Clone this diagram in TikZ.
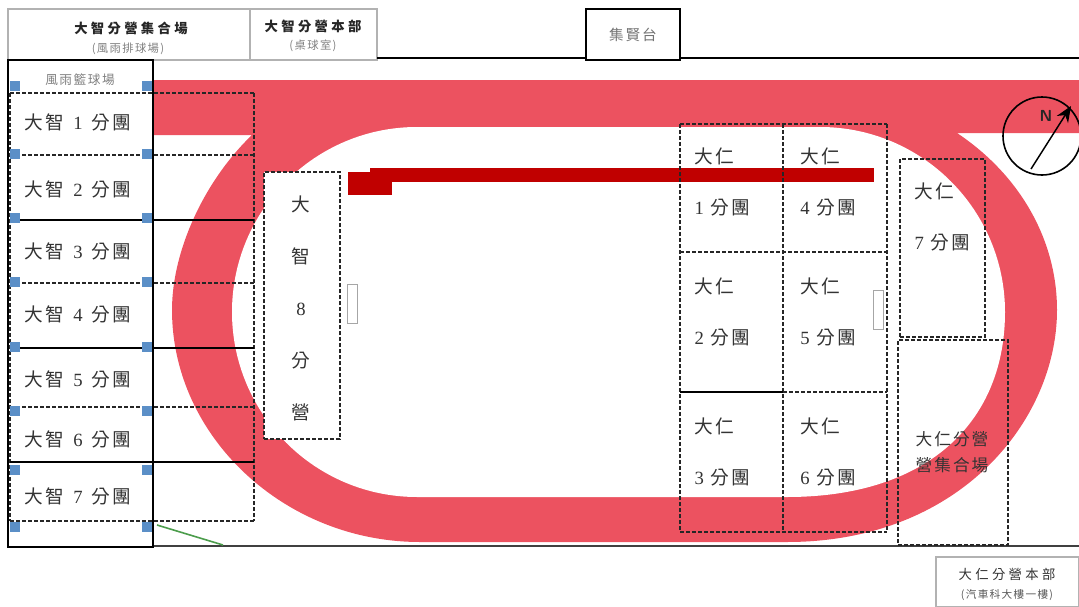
\documentclass[tikz,border=0pt]{standalone}
\usepackage{fontspec}
\setmainfont{Liberation Serif}
\newfontfamily\cjk[LetterSpace=12]{Noto Sans CJK TC}
\newfontfamily\cjkwide[LetterSpace=25]{Noto Sans CJK TC}
\usetikzlibrary{positioning, arrows.meta}
\definecolor{trackred}{HTML}{EC5260}
\definecolor{barred}{HTML}{C00000}
\definecolor{handleblue}{HTML}{5B8FC7}
\definecolor{inkgray}{HTML}{333333}
\tikzset{
  zonesize/.style 2 args={minimum width=#1*0.75pt, minimum height=#2*0.75pt},
  zonecell/.style={inner sep=0pt, outer sep=0pt},
  zoneline/.style={draw=black!85, line width=1.3pt, dash pattern=on 3pt off 1.5pt},
  zonesolid/.style={draw=black, line width=1.1pt},
  zonebox/.style={zonecell, zoneline},
  infobox/.style={draw=black!30, line width=0.8pt, fill=white, inner sep=0pt, outer sep=0pt},
  rowlabel/.style={text=inkgray, font=\fontsize{14}{16}\selectfont\cjk},
  renlabel/.style={text=inkgray, align=left, font=\fontsize{14}{38.5}\selectfont\cjk},
  handle/.style={fill=handleblue, inner sep=0pt, minimum size=7.5pt},
  slot/.style={draw=black!35, line width=0.6pt, fill=white, inner sep=0pt, zonesize={10}{39}},
  smalltext/.style={text=black!50, font=\fontsize{8.5}{10}\selectfont\cjk},
  headtext/.style={text=black!85, font=\fontsize{10}{12}\selectfont\cjkwide\bfseries}
}

\begin{document}
\begin{tikzpicture}[x=0.75pt, y=-0.75pt]
  \useasboundingbox (0,0) rectangle (1079,607);
  \clip (0,0) rectangle (1079,607);

  % Track
  \fill[trackred] (153,80) -- (1079,80) -- (1079,133) -- (957,133)
    .. controls (1020,175) and (1057,240) .. (1057,310)
    .. controls (1057,420) and (960,542) .. (787,542) -- (420,542)
    .. controls (285,542) and (172,437) .. (172,310)
    .. controls (172,250) and (205,180) .. (252,135) -- (153,135) -- cycle;
  \fill[white] (417,127) -- (820,127)
    .. controls (922,127) and (1005,210) .. (1005,312)
    .. controls (1005,420) and (930,497) .. (787,497) -- (417,497)
    .. controls (315,497) and (232,414) .. (232,312)
    .. controls (232,210) and (315,127) .. (417,127) -- cycle;

  % Red bar
  \fill[barred] (348,172) rectangle (392,195);
  \fill[barred] (370,168) rectangle (874,182);

  % Field border
  \coordinate (topend) at (1079,58);
  \coordinate (botstart) at (153,546);
  \coordinate (botend) at (1079,546);
  \coordinate (greenstart) at (157,525);
  \coordinate (greenend) at (223,545);
  \draw[black!75, line width=1pt] (botstart) -- (botend);
  \draw[green!45!black!70!white, line width=1.2pt] (greenstart) -- (greenend);

  % Top boxes
  \node[infobox, zonesize={242}{51}] (jihe) at (129,34.5) {};
  \node[infobox, zonesize={127}{51}, right=0pt of jihe] (benbu) {};
  \node[headtext] (jihename) at (131,28) {大智分營集合場};
  \node[smalltext] (jiheplace) at (128,49) {(風雨排球場)};
  \node[headtext] (benbuname) at (313,26) {大智分營本部};
  \node[smalltext] (benbuplace) at (313,46) {(桌球室)};
  \draw[black, line width=0.9pt] (benbu.east |- topend) -- (topend);
  \node[draw=black, line width=1.5pt, fill=white, inner sep=0pt, zonesize={94}{51}, text=black!55,
    font=\fontsize{11}{13}\selectfont\cjk] (jixian) at (633,34.5) {集賢台};

  % Left hall
  \node[draw=black, line width=1.6pt, inner sep=0pt, zonesize={145}{487}] (hall) at (80.5,303.5) {};
  \node[smalltext, font=\fontsize{9.5}{11}\selectfont\cjk] (hallname) at (80,80) {風雨籃球場};

  % Zhi groups
  \foreach \n/\mid/\h/\t in {1/124/62/122, 2/187.5/65/189, 3/251.5/63/251, 4/315.5/65/314,
                             5/377.5/59/379, 6/434.5/55/439, 7/491.5/59/496} {
    \node[zonecell, zonesize={244}{\h}] (zhi\n) at (132,\mid) {};
    \node[rowlabel] (zhiname\n) at (78,\t) {大智\hspace{2pt} {\rmfamily\n}\hspace{2pt} 分團};
  }
  \draw[zoneline] (zhi1.north west) -- (zhi7.south west);
  \draw[zoneline] (zhi1.north east) -- (zhi7.south east);
  \draw[zoneline] (zhi1.north west) -- (zhi1.north east);
  \foreach \n in {1,3,5,7} \draw[zoneline] (zhi\n.south west) -- (zhi\n.south east);
  \foreach \n in {2,4,6} \draw[zonesolid] (zhi\n.south west) -- (zhi\n.south east);

  % Handles
  \foreach \y in {86,154,218,282,347,411,470,527} {
    \node[handle] at (15,\y) {};
    \node[handle] at (147,\y) {};
  }

  % Zhi 8
  \node[zonebox, fill=white, zonesize={76}{267}] (zhi8) at (302,305.5) {};
  \node[renlabel, align=center, font=\fontsize{14}{39}\selectfont\cjk] (zhi8name) at (301,308) {大\\智\\{\rmfamily 8}\\分\\營};
  \node[slot] (slotleft) at (352,303.5) {};
  \node[slot] (slotright) at (878,309.5) {};

  % Ren groups
  \node[zonecell, zonesize={103}{128}] (ren1) at (731.5,188) {};
  \node[zonecell, zonesize={103}{140}, below=0pt of ren1] (ren2) {};
  \node[zonecell, zonesize={103}{140}, below=0pt of ren2] (ren3) {};
  \node[zonecell, zonesize={104}{128}, right=0pt of ren1] (ren4) {};
  \node[zonecell, zonesize={104}{140}, below=0pt of ren4] (ren5) {};
  \node[zonecell, zonesize={104}{140}, below=0pt of ren5] (ren6) {};
  \foreach \n/\d/\s in {1/14/7.5, 2/15.5/7.5, 3/15.5/7.5, 4/14/9.5, 5/15.5/9.5, 6/15.5/9.5} {
    \node[renlabel, below right=\d pt and \s pt of ren\n.north west] (renname\n) {大仁\\{\rmfamily\n} 分團};
  }
  \draw[zoneline] (ren1.north west) -- (ren3.south west);
  \draw[zoneline, line width=1.9pt] (ren1.north east) -- (ren3.south east);
  \draw[zoneline] (ren4.north east) -- (ren6.south east);
  \draw[zoneline] (ren1.north west) -- (ren4.north east);
  \draw[zoneline] (ren2.north west) -- (ren5.north east);
  \draw[zonesolid] (ren2.south west) -- (ren2.south east);
  \draw[zoneline] (ren5.south west) -- (ren5.south east);
  \draw[zoneline] (ren3.south west) -- (ren6.south east);
  \node[zonebox, zonesize={85}{178}] (ren7) at (942.5,248) {};
  \node[renlabel, anchor=west] (renname7) at (910,217) {大仁\\{\rmfamily 7} 分團};
  \node[zonebox, zonesize={110}{205}] (renjihe) at (953,442.5) {};
  \node[renlabel, align=center, font=\fontsize{12.5}{19.5}\selectfont\cjk] (renjihename) at (952,452) {大仁分營\\營集合場};

  % Ren headquarters
  \node[infobox, zonesize={143}{50}] (renbu) at (1007.5,582) {};
  \node[headtext, font=\fontsize{10}{12}\selectfont\cjkwide, text=inkgray] (renbuname) at (1007,574) {大仁分營本部};
  \node[smalltext, font=\fontsize{8}{10}\selectfont\cjk, text=black!65] (renbuplace) at (1007,595) {(汽車科大樓一樓)};

  % Compass
  \node[draw=black, line width=1.2pt, circle, inner sep=0pt, minimum size=58.5pt] (compass) at (1042,136) {};
  \coordinate (needletail) at (1031,169);
  \coordinate (needletip) at (1071,106);
  \draw[-{Stealth[length=12pt, width=10pt]}, black, line width=1.1pt] (needletail) -- (needletip);
  \node[text=black!85, font=\fontsize{12}{14}\selectfont\sffamily\bfseries] (north) at (1046,116) {N};
\end{tikzpicture}
\end{document}
